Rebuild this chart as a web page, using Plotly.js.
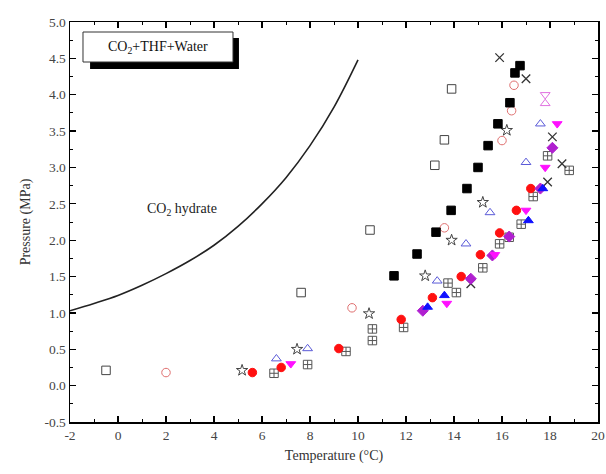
<!DOCTYPE html>
<html>
<head>
<meta charset="utf-8">
<script src="https://cdn.plot.ly/plotly-3.0.1.min.js"></script>
<style>html,body{margin:0;padding:0;background:#fff;}#chart{width:606px;height:474px;}</style>
</head>
<body>
<div id="chart"></div>
<script>
// Tick labels
const xTickVals = [-2, 0, 2, 4, 6, 8, 10, 12, 14, 16, 18, 20];
const xTickText = ['-2', '0', '2', '4', '6', '8', '10', '12', '14', '16', '18', '20'];
const yTickVals = [-0.5, 0, 0.5, 1, 1.5, 2, 2.5, 3, 3.5, 4, 4.5, 5];
const yTickText = ['-0.5', '0.0', '0.5', '1.0', '1.5', '2.0', '2.5', '3.0', '3.5', '4.0', '4.5', '5.0'];

// CO2 hydrate equilibrium curve
const curveT = [-2, -1, 0, 1, 2, 3, 4, 5, 6, 7, 8, 9, 10];
const curveP = [1.03, 1.13, 1.24, 1.38, 1.54, 1.72, 1.93, 2.19, 2.50, 2.86, 3.30, 3.83, 4.48];

// Black filled squares
const blkSqT = [11.5, 12.46, 13.25, 13.88, 14.54, 15.0, 15.42, 15.83, 16.33, 16.54, 16.75];
const blkSqP = [1.51, 1.81, 2.11, 2.41, 2.71, 3.0, 3.3, 3.6, 3.89, 4.3, 4.4];

// Open squares
const openSqT = [-0.5, 7.63, 10.5, 13.2, 13.6, 13.9];
const openSqP = [0.21, 1.28, 2.14, 3.03, 3.38, 4.08];

// Open circles
const openCirT = [2.0, 9.75, 13.6, 16.0, 16.4, 16.5];
const openCirP = [0.18, 1.07, 2.17, 3.37, 3.78, 4.13];

// Open stars
const starT = [5.17, 7.46, 10.46, 12.8, 13.9, 15.2, 16.2];
const starP = [0.21, 0.5, 0.99, 1.51, 2.0, 2.52, 3.51];

// Open triangles (blue)
const openTriT = [6.6, 7.9, 13.3, 14.5, 15.5, 17.0, 17.6];
const openTriP = [0.37, 0.51, 1.44, 1.95, 2.38, 3.07, 3.6];

// Red filled circles
const redT = [5.6, 6.8, 9.2, 11.8, 13.1, 14.3, 15.1, 15.9, 16.6, 17.2];
const redP = [0.18, 0.25, 0.51, 0.91, 1.21, 1.5, 1.8, 2.1, 2.41, 2.71];

// Magenta filled down-triangles
const magT = [7.2, 13.7, 15.7, 17.0, 17.8, 18.3];
const magP = [0.3, 1.13, 1.8, 2.41, 3.0, 3.6];

// Purple filled diamonds
const purT = [12.7, 14.7, 15.6, 16.3, 17.6, 18.1];
const purP = [1.03, 1.47, 1.79, 2.05, 2.71, 3.27];

// Blue filled up-triangles
const bluT = [12.9, 13.6, 17.1, 17.7];
const bluP = [1.08, 1.24, 2.27, 2.71];

// Boxed squares
const boxT = [6.5, 7.9, 9.5, 10.6, 10.6, 11.9, 13.75, 14.1, 15.2, 15.9, 16.3, 16.8, 17.3, 17.9, 18.8];
const boxP = [0.17, 0.29, 0.47, 0.62, 0.78, 0.8, 1.41, 1.28, 1.62, 1.95, 2.04, 2.22, 2.6, 3.16, 2.96];

// Crosses
const crossT = [14.7, 17.9, 18.5, 18.1, 17.0, 15.9];
const crossP = [1.4, 2.8, 3.05, 3.42, 4.22, 4.51];

// Open pink triangles
const pinkUpT = [17.8];
const pinkUpP = [3.88];
const pinkDnT = [17.8];
const pinkDnP = [4.0];

const ms = 8.5;
function sc(x, y, symbol, color, lw) {
  return {x: x, y: y, type: 'scatter', mode: 'markers', showlegend: false,
    marker: {symbol: symbol, size: ms, color: color, line: {color: color, width: lw || 1}}};
}

const data = [
  {x: curveT, y: curveP, type: 'scatter', mode: 'lines', showlegend: false,
   line: {color: '#222', width: 1.6, shape: 'spline', smoothing: 1}},
  sc(openSqT, openSqP, 'square-open', '#444'),
  sc(openCirT, openCirP, 'circle-open', '#e07070'),
  sc(starT, starP, 'star-open', '#444'),
  sc(openTriT, openTriP, 'triangle-up-open', '#5a5ad8'),
  sc(boxT, boxP, 'square-cross-open', '#555'),
  sc(crossT, crossP, 'x-thin-open', '#333', 1.3),
  sc(pinkUpT, pinkUpP, 'triangle-up-open', '#e070e0'),
  sc(pinkDnT, pinkDnP, 'triangle-down-open', '#e070e0'),
  sc(blkSqT, blkSqP, 'square', '#000'),
  sc(redT, redP, 'circle', '#ff1010'),
  sc(purT, purP, 'diamond', '#b020d0'),
  sc(magT, magP, 'triangle-down', '#ff10ff'),
  sc(bluT, bluP, 'triangle-up', '#1010ff')
];

const axisCommon = {
  showline: true, linecolor: '#000', linewidth: 1.5, mirror: 'allticks',
  ticks: 'inside', ticklen: 6, tickwidth: 1.3, tickcolor: '#000',
  showgrid: false, zeroline: false,
  tickfont: {family: 'Liberation Serif, serif', size: 13.5, color: '#444'}
};

const layout = {
  width: 606, height: 474,
  margin: {l: 70, r: 8, t: 22, b: 52},
  paper_bgcolor: '#fff', plot_bgcolor: '#fff',
  font: {family: 'Liberation Serif, serif', color: '#333'},
  xaxis: Object.assign({}, axisCommon, {
    range: [-2, 20], tickmode: 'array', tickvals: xTickVals, ticktext: xTickText,
    minor: {dtick: 1, tick0: -2, ticks: 'inside', ticklen: 3, tickcolor: '#000', tickwidth: 1},
    title: {text: 'Temperature (°C)', font: {family: 'Liberation Serif, serif', size: 14, color: '#333'}, standoff: 8}
  }),
  yaxis: Object.assign({}, axisCommon, {
    range: [-0.5, 5.0], tickmode: 'array', tickvals: yTickVals, ticktext: yTickText,
    minor: {dtick: 0.25, tick0: 0, ticks: 'inside', ticklen: 3, tickcolor: '#000', tickwidth: 1},
    title: {text: 'Pressure (MPa)', font: {family: 'Liberation Serif, serif', size: 14, color: '#333'}, standoff: 10}
  }),
  shapes: [
    {type: 'rect', xref: 'paper', yref: 'paper', x0: 0.038, x1: 0.320, y0: 0.8825, y1: 0.96,
     fillcolor: '#000', line: {width: 0}},
    {type: 'rect', xref: 'paper', yref: 'paper', x0: 0.0246, x1: 0.3087, y0: 0.9, y1: 0.975,
     fillcolor: '#fff', line: {color: '#333', width: 1}}
  ],
  annotations: [
    {xref: 'paper', yref: 'paper', x: 0.167, y: 0.9375, text: 'CO<sub>2</sub>+THF+Water', showarrow: false,
     font: {family: 'Liberation Serif, serif', size: 14, color: '#111'}, xanchor: 'center', yanchor: 'middle'},
    {xref: 'paper', yref: 'paper', x: 0.212, y: 0.5325, text: 'CO<sub>2</sub> hydrate', showarrow: false,
     font: {family: 'Liberation Serif, serif', size: 14, color: '#222'}, xanchor: 'center', yanchor: 'middle'}
  ]
};

Plotly.newPlot('chart', data, layout, {displayModeBar: false, staticPlot: true});
</script>
</body>
</html>
